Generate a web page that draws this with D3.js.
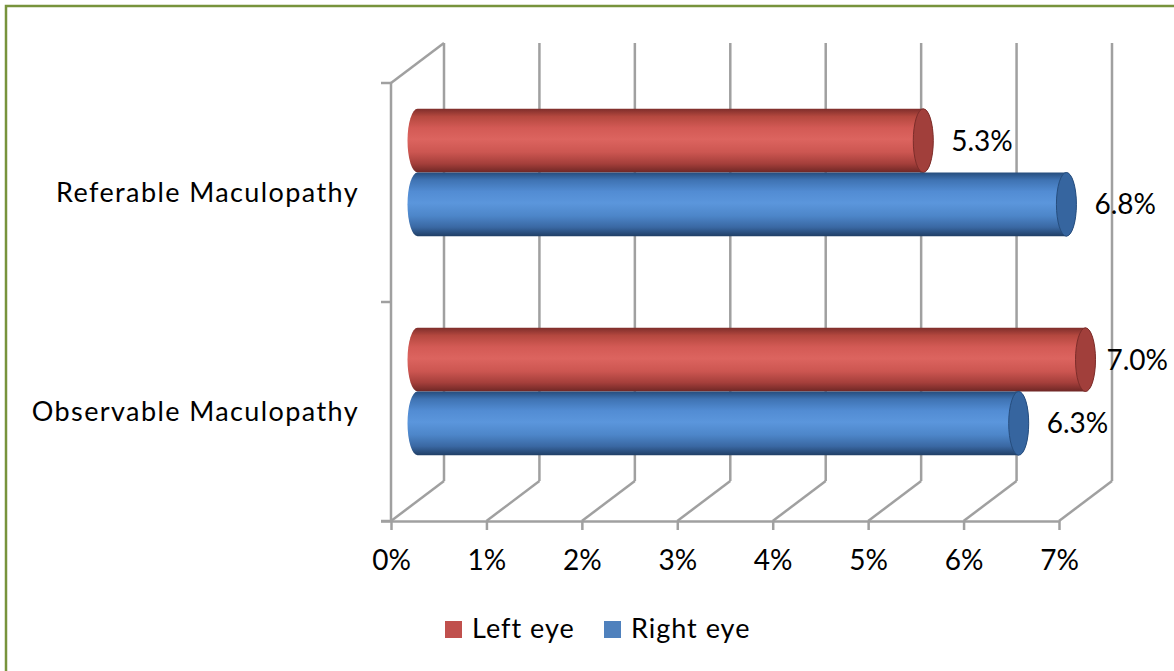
<!DOCTYPE html>
<html>
<head>
<meta charset="utf-8">
<script src="https://cdn.jsdelivr.net/npm/d3@7"></script>
<style>
  html, body { margin: 0; padding: 0; background: #fff; }
  svg { display: block; font-family: Lato, "Open Sans", sans-serif; }
</style>
</head>
<body>
<svg id="chart" width="1174" height="671"></svg>
<script>
// Share of eyes with maculopathy, by grade and eye
const categories = ["Referable Maculopathy", "Observable Maculopathy"];
const seriesNames = ["Left eye", "Right eye"];
const leftEye = [0.053, 0.070];
const rightEye = [0.068, 0.063];
const tickValues = [0, 0.01, 0.02, 0.03, 0.04, 0.05, 0.06, 0.07];
const seriesColors = ["#c0504d", "#4f81bd"];

const svg = d3.select("#chart");
const W = 1174, H = 671;

// frame
svg.append("path")
  .attr("d", `M6,${H} V6 H${W}`)
  .attr("fill", "none").attr("stroke", "#77933c").attr("stroke-width", 2.5);

// front plane of the 3-D box plus the depth offset of the back wall
const x = d3.scaleLinear().domain([0, 0.07]).range([391, 1059]);
const y = d3.scaleBand().domain(categories).range([83, 521]);
const dx = 53, dy = -40;
const yTop = 83, yBot = 521;
const grid = "#a0a0a0";

const walls = svg.append("g").attr("stroke", grid).attr("stroke-width", 2.5).attr("fill", "none");
// back wall verticals
walls.selectAll("line.back").data(tickValues).join("line")
  .attr("x1", d => x(d) + dx).attr("x2", d => x(d) + dx)
  .attr("y1", yTop + dy).attr("y2", yBot + dy);
// floor diagonals
walls.selectAll("line.floor").data(tickValues).join("line")
  .attr("x1", d => x(d)).attr("x2", d => x(d) + dx)
  .attr("y1", yBot).attr("y2", yBot + dy);
// side wall
walls.append("line").attr("x1", x(0)).attr("x2", x(0)).attr("y1", yTop).attr("y2", yBot);
walls.append("line").attr("x1", x(0)).attr("x2", x(0) + dx).attr("y1", yTop).attr("y2", yTop + dy);
// category ticks on the side wall
const catEdges = [y.range()[0], ...categories.map(c => y(c) + y.bandwidth())];
walls.selectAll("line.ctick").data(catEdges).join("line")
  .attr("x1", x(0) - 10).attr("x2", x(0)).attr("y1", d => d).attr("y2", d => d);

// value axis along the front of the floor
const xAxis = d3.axisBottom(x).tickValues(tickValues).tickFormat(d3.format(".0%"))
  .tickSize(9).tickSizeOuter(0).tickPadding(20);
const ax = svg.append("g").attr("transform", `translate(0,${yBot})`).call(xAxis);
ax.select(".domain").attr("stroke", grid).attr("stroke-width", 2.5)
  .attr("d", `M${x(0) - 10},0.5H${x(0.07)}`);
ax.selectAll(".tick line").attr("stroke", grid).attr("stroke-width", 2.5);
ax.selectAll(".tick text").attr("fill", "#000").attr("font-size", 28)
  .attr("font-family", "Lato, sans-serif");

// category labels
svg.append("g").selectAll("text").data(categories).join("text")
  .attr("x", 359).attr("y", d => y(d) + y.bandwidth() / 2)
  .attr("dy", "0.36em").attr("text-anchor", "end")
  .attr("font-size", 27).attr("letter-spacing", 1.4).attr("fill", "#000").text(d => d);

// gradients for the cylinders
const defs = svg.append("defs");
const shades = [
  { id: "g0", stops: ["#7f2e2b", "#b4483f", "#d35a55", "#dc645f", "#cc5651", "#a53f3b", "#6e2725"] },
  { id: "g1", stops: ["#264d7d", "#3f73b3", "#528cd3", "#5b96dc", "#4d86c9", "#3a68a3", "#203f66"] }
];
shades.forEach(s => {
  const g = defs.append("linearGradient").attr("id", s.id).attr("x1", 0).attr("x2", 0).attr("y1", 0).attr("y2", 1);
  const offs = [0, 0.12, 0.3, 0.48, 0.68, 0.86, 1];
  s.stops.forEach((c, i) => g.append("stop").attr("offset", offs[i]).attr("stop-color", c));
});
const capFill = ["#a13f3b", "#36659f"];
const capEdge = ["#7c2d2a", "#264d7d"];

const yInner = d3.scaleBand().domain(seriesNames).range([0, y.bandwidth()]).paddingInner(0).paddingOuter(0.72);
const h = yInner.bandwidth();
const rx = 10;

const rows = [];
categories.forEach((c, i) => {
  rows.push({ cat: c, s: 0, v: leftEye[i] });
  rows.push({ cat: c, s: 1, v: rightEye[i] });
});

const bars = svg.append("g").selectAll("g").data(rows).join("g");
bars.each(function(d) {
  const g = d3.select(this);
  const top = y(d.cat) + yInner(seriesNames[d.s]) + dy / 2;
  const bot = top + h;
  const x0 = x(0) + dx / 2, x1 = x(d.v) + dx / 2;
  const ry = h / 2;
  g.append("path")
    .attr("d", `M${x0},${top} L${x1},${top} A${rx},${ry} 0 0 1 ${x1},${bot} L${x0},${bot} A${rx},${ry} 0 0 1 ${x0},${top} Z`)
    .attr("fill", `url(#g${d.s})`);
  g.append("ellipse")
    .attr("cx", x1).attr("cy", top + ry).attr("rx", rx).attr("ry", ry)
    .attr("fill", capFill[d.s]).attr("stroke", capEdge[d.s]).attr("stroke-width", 1);
  const label = g.append("text")
    .attr("x", x1 + rx + 18).attr("y", top + ry).attr("dy", "0.36em")
    .attr("font-size", 28).attr("fill", "#000")
    .text(d3.format(".1%")(d.v));
  // keep the label inside the frame
  const tw = label.node().getComputedTextLength();
  const maxRight = W - 6;
  if (x1 + rx + 18 + tw > maxRight) label.attr("x", maxRight - tw);
});

// legend
const legend = svg.append("g");
const lx = [445, 604];
seriesNames.forEach((n, i) => {
  legend.append("rect").attr("x", lx[i]).attr("y", 621).attr("width", 17).attr("height", 17).attr("fill", seriesColors[i]);
  legend.append("text").attr("x", lx[i] + 27).attr("y", 638).attr("font-size", 27)
    .attr("letter-spacing", 1).attr("fill", "#000").text(n);
});
</script>
</body>
</html>
